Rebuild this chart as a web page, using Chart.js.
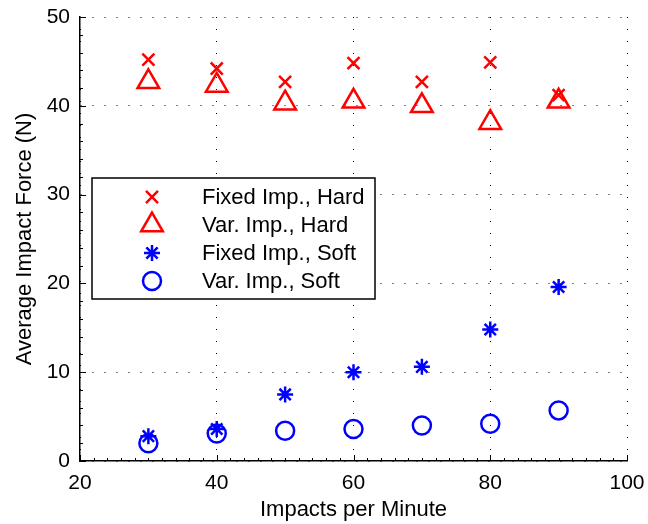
<!DOCTYPE html>
<html>
<head>
<meta charset="utf-8">
<script src="https://cdn.jsdelivr.net/npm/chart.js@4.4.1/dist/chart.umd.min.js"></script>
<style>
  html, body { margin: 0; padding: 0; background: #fff; }
  #wrap { width: 648px; height: 524px; }
</style>
</head>
<body>
<div id="wrap"><canvas id="impactChart" width="648" height="524"></canvas></div>
<script>
// Impacts per minute (x values shared by all series)
const impactRates = [30, 40, 50, 60, 70, 80, 90];

// Average impact force (N)
const fixedHard = [45.2, 44.2, 42.7, 44.8, 42.7, 44.9, 41.2];
const varHard   = [42.7, 42.3, 40.3, 40.5, 40.0, 38.1, 40.5];
const fixedSoft = [2.8, 3.6, 7.5, 10.0, 10.6, 14.8, 19.6];
const varSoft   = [2.0, 3.1, 3.4, 3.6, 4.0, 4.2, 5.7];

const seriesLabels = ['Fixed Imp., Hard', 'Var. Imp., Hard', 'Fixed Imp., Soft', 'Var. Imp., Soft'];

const xTicks = [20, 40, 60, 80, 100];
const yTicks = [0, 10, 20, 30, 40, 50];

const FONT = 'Liberation Sans, Arial, Helvetica, sans-serif';

function toPoints(values) {
    return impactRates.map((x, i) => ({ x: x, y: values[i] }));
}

// keep label overhang from pushing the plot area around
function noOverhang(scale) {
    scale.paddingLeft = 0;
    scale.paddingRight = 0;
    scale.paddingTop = 0;
    scale.paddingBottom = 0;
}

// Inward major ticks and small minor ticks, MATLAB style
const axisTicks = {
    id: 'axisTicks',
    afterDraw(chart) {
        const { ctx, chartArea, scales } = chart;
        const xs = scales.x, ys = scales.y;
        ctx.save();
        ctx.strokeStyle = '#000';
        ctx.lineWidth = 1;
        ctx.beginPath();
        // minor x ticks every 2
        for (let v = 20; v <= 100; v += 2) {
            const px = Math.round(xs.getPixelForValue(v)) + 0.5;
            const len = (v % 20 === 0) ? 6 : 3;
            ctx.moveTo(px, chartArea.bottom);
            ctx.lineTo(px, chartArea.bottom - len);
        }
        // minor y ticks every 2
        for (let v = 0; v <= 50; v += 2) {
            const py = Math.round(ys.getPixelForValue(v)) + 0.5;
            const len = (v % 10 === 0) ? 6 : 3;
            ctx.moveTo(chartArea.left, py);
            ctx.lineTo(chartArea.left + len, py);
        }
        ctx.stroke();
        ctx.restore();
    }
};

// Legend box drawn inside the plot area
const boxLegend = {
    id: 'boxLegend',
    afterDatasetsDraw(chart) {
        const { ctx, chartArea } = chart;
        const left = chartArea.left + 12;
        const top = chartArea.top + 161;
        const width = 283;
        const height = 121;
        ctx.save();
        ctx.fillStyle = '#fff';
        ctx.fillRect(left, top, width, height);
        ctx.strokeStyle = '#000';
        ctx.lineWidth = 1.5;
        ctx.strokeRect(left, top, width, height);

        ctx.font = '22px ' + FONT;
        ctx.textBaseline = 'middle';
        ctx.textAlign = 'left';
        chart.data.datasets.forEach((ds, i) => {
            const cy = top + 19 + i * 28;
            const cx = left + 60;
            ctx.strokeStyle = ds.borderColor;
            ctx.fillStyle = 'rgba(0,0,0,0)';
            ctx.lineWidth = ds.borderWidth;
            Chart.helpers.drawPoint(ctx, {
                pointStyle: ds.pointStyle,
                radius: ds.pointRadius,
                rotation: 0,
                borderWidth: ds.borderWidth
            }, cx, cy);
            ctx.fillStyle = '#000';
            ctx.fillText(ds.label, left + 110, cy + 1);
        });
        ctx.restore();
    }
};

const datasets = [
    { label: seriesLabels[0], data: toPoints(fixedHard), pointStyle: 'crossRot', pointRadius: 8.5,  borderColor: '#ff0000', borderWidth: 2.5 },
    { label: seriesLabels[1], data: toPoints(varHard),   pointStyle: 'triangle', pointRadius: 12.5, borderColor: '#ff0000', borderWidth: 2.5 },
    { label: seriesLabels[2], data: toPoints(fixedSoft), pointStyle: 'star',     pointRadius: 8,    borderColor: '#0000ff', borderWidth: 2.5 },
    { label: seriesLabels[3], data: toPoints(varSoft),   pointStyle: 'circle',   pointRadius: 9,    borderColor: '#0000ff', borderWidth: 2.5 }
].map(ds => Object.assign(ds, {
    backgroundColor: 'rgba(0,0,0,0)',
    pointBackgroundColor: 'rgba(0,0,0,0)',
    pointBorderColor: ds.borderColor,
    pointBorderWidth: ds.borderWidth,
    pointHoverRadius: ds.pointRadius,
    showLine: false
}));

const ctx = document.getElementById('impactChart').getContext('2d');
new Chart(ctx, {
    type: 'scatter',
    data: { datasets },
    options: {
        responsive: false,
        animation: false,
        events: [],
        layout: { padding: { top: 17, right: 21, left: 0, bottom: 0 } },
        plugins: {
            legend: { display: false },
            tooltip: { enabled: false }
        },
        scales: {
            x: {
                type: 'linear',
                min: 20,
                max: 100,
                afterBuildTicks(scale) { scale.ticks = xTicks.map(v => ({ value: v })); },
                afterFit(scale) { scale.height = 63; noOverhang(scale); },
                ticks: {
                    color: '#000',
                    font: { family: FONT, size: 21 },
                    padding: 10,
                    maxRotation: 0
                },
                grid: { color: '#000', lineWidth: 1, drawTicks: false },
                border: { display: true, color: '#000', width: 1.5, dash: [1, 11] },
                title: {
                    display: true,
                    text: 'Impacts per Minute',
                    color: '#000',
                    font: { family: FONT, size: 22 },
                    padding: { top: 0, bottom: 1 }
                }
            },
            y: {
                type: 'linear',
                min: 0,
                max: 50,
                afterBuildTicks(scale) { scale.ticks = yTicks.map(v => ({ value: v })); },
                afterFit(scale) { scale.width = 80; noOverhang(scale); },
                ticks: {
                    color: '#000',
                    font: { family: FONT, size: 21 },
                    padding: 10
                },
                grid: { color: '#000', lineWidth: 1, drawTicks: false },
                border: { display: true, color: '#000', width: 1.5, dash: [1, 11] },
                title: {
                    display: true,
                    text: 'Average Impact Force (N)',
                    color: '#000',
                    font: { family: FONT, size: 22 },
                    padding: { top: 12, bottom: 0 }
                }
            }
        }
    },
    plugins: [axisTicks, boxLegend]
});
</script>
</body>
</html>
